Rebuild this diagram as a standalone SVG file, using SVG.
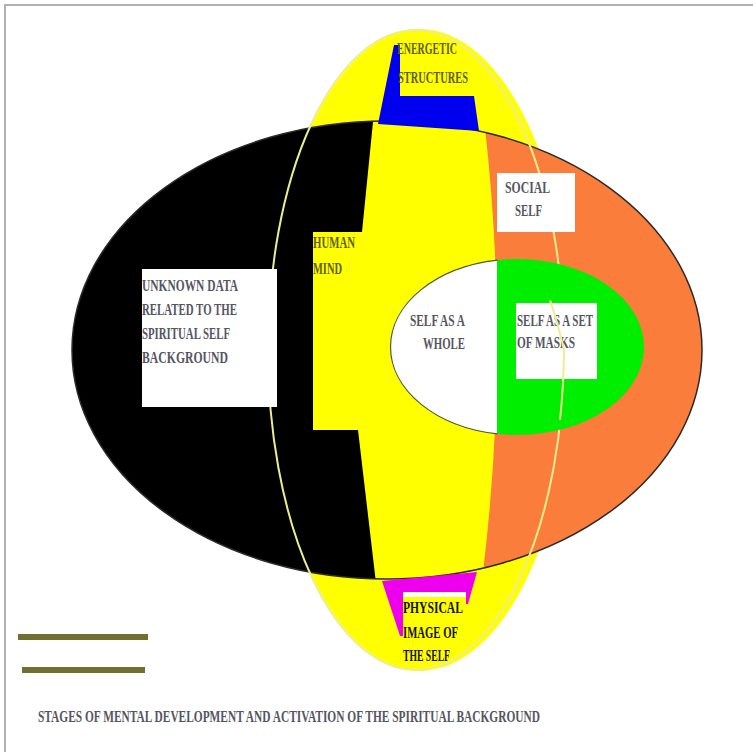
<svg xmlns="http://www.w3.org/2000/svg" width="753" height="756" viewBox="0 0 753 756">
  <style>
    .lbl { font-family: "Liberation Serif", "Times New Roman", serif; font-weight: bold; font-size: 17px; }
    .gray { fill: #555560; }
    .olive { fill: #5e5e1e; }
    .dark { fill: #111111; }
    .box { fill: #ffffff; }
  </style>
  <defs>
    <clipPath id="hclip">
      <ellipse cx="387" cy="350" rx="315" ry="229"/>
    </clipPath>
    <clipPath id="iclip">
      <ellipse cx="517" cy="347" rx="127" ry="88"/>
    </clipPath>
  </defs>
  <rect x="0" y="0" width="753" height="756" fill="#ffffff"/>
  <path d="M5 752 V5 H753" fill="none" stroke="#b0b0b0" stroke-width="2"/>

  <g id="vertical-ellipse">
    <ellipse cx="420" cy="350" rx="152" ry="321" fill="#ffff00"/>
  </g>

  <g id="horizontal-ellipse">
    <ellipse cx="387" cy="350" rx="315" ry="229" fill="#ffff00"/>
    <g clip-path="url(#hclip)">
      <polygon points="0,100 374,100 373,122 362,232 313,232 313,430 358,430 378,600 0,600" fill="#000000"/>
      <path d="M485 100 L485 128 Q510 350 483 572 L483 600 L753 600 L753 100 Z" fill="#fb7d3c"/>
    </g>
    <ellipse cx="387" cy="350" rx="315" ry="229" fill="none" stroke="#2a2a2a" stroke-width="1.5"/>
  </g>

  <g id="vertical-outline">
    <ellipse cx="416" cy="350" rx="148" ry="320" fill="none" stroke="#eded90" stroke-width="2"/>
  </g>

  <g id="energetic-structures">
    <polygon points="394,45 400,45 400,96 474,96 479,131 378,124" fill="#0000ee"/>
    <text class="lbl olive" x="397" y="54" textLength="60" lengthAdjust="spacingAndGlyphs">ENERGETIC</text>
    <text class="lbl olive" x="398" y="83" textLength="70" lengthAdjust="spacingAndGlyphs">STRUCTURES</text>
  </g>

  <g id="social-self">
    <rect class="box" x="497" y="173" width="78" height="59"/>
    <text class="lbl gray" x="505" y="193" textLength="45" lengthAdjust="spacingAndGlyphs">SOCIAL</text>
    <text class="lbl gray" x="515" y="216" textLength="27" lengthAdjust="spacingAndGlyphs">SELF</text>
  </g>

  <g id="unknown-data">
    <rect class="box" x="142" y="269" width="135" height="138"/>
    <text class="lbl gray" x="142" y="291" textLength="96" lengthAdjust="spacingAndGlyphs">UNKNOWN DATA</text>
    <text class="lbl gray" x="142" y="315" textLength="95" lengthAdjust="spacingAndGlyphs">RELATED TO THE</text>
    <text class="lbl gray" x="142" y="339" textLength="88" lengthAdjust="spacingAndGlyphs">SPIRITUAL SELF</text>
    <text class="lbl gray" x="142" y="363" textLength="86" lengthAdjust="spacingAndGlyphs">BACKGROUND</text>
  </g>

  <g id="human-mind">
    <text class="lbl olive" x="313" y="248" textLength="42" lengthAdjust="spacingAndGlyphs">HUMAN</text>
    <text class="lbl olive" x="313" y="274" textLength="29" lengthAdjust="spacingAndGlyphs">MIND</text>
  </g>

  <g id="self-inner">
    <g clip-path="url(#iclip)">
      <rect x="380" y="250" width="118" height="200" fill="#ffffff"/>
      <rect x="497" y="250" width="160" height="200" fill="#00ee00"/>
    </g>
    <path d="M497.5 260.1 A127 88 0 0 0 497.5 433.9" fill="none" stroke="#4a5a2a" stroke-width="1.2"/>
  </g>

  <g id="self-as-whole">
    <text class="lbl gray" x="410" y="326" textLength="55" lengthAdjust="spacingAndGlyphs">SELF AS A</text>
    <text class="lbl gray" x="423" y="349" textLength="42" lengthAdjust="spacingAndGlyphs">WHOLE</text>
  </g>

  <g id="self-masks">
    <rect class="box" x="516" y="303" width="81" height="76"/>
    <text class="lbl gray" x="517" y="326" textLength="76" lengthAdjust="spacingAndGlyphs">SELF AS A SET</text>
    <text class="lbl gray" x="517" y="348" textLength="58" lengthAdjust="spacingAndGlyphs">OF MASKS</text>
  </g>

  <g id="vertical-outline-top">
    <path d="M550 300 A148 320 0 0 1 564 350 A148 320 0 0 1 560 420" fill="none" stroke="#eded90" stroke-width="2" clip-path="url(#iclip)"/>
  </g>

  <g id="physical-image">
    <polygon points="382,581 477,572 468,604 466,604 466,592 403,592 403,636 400,636" fill="#ee00ee"/>
    <rect x="403" y="592" width="63" height="5" fill="#ffffff"/>
    <text class="lbl dark" x="403" y="613" textLength="60" lengthAdjust="spacingAndGlyphs">PHYSICAL</text>
    <text class="lbl dark" x="403" y="638" textLength="55" lengthAdjust="spacingAndGlyphs">IMAGE OF</text>
    <text class="lbl dark" x="403" y="661" textLength="47" lengthAdjust="spacingAndGlyphs">THE SELF</text>
  </g>

  <g id="legend">
    <line x1="18" y1="637" x2="148" y2="637" stroke="#707030" stroke-width="6"/>
    <line x1="22" y1="670" x2="145" y2="670" stroke="#707030" stroke-width="6"/>
    <text class="lbl gray" x="38" y="722" font-size="13" textLength="502" lengthAdjust="spacingAndGlyphs">STAGES OF MENTAL DEVELOPMENT AND ACTIVATION OF THE SPIRITUAL BACKGROUND</text>
  </g>
</svg>
